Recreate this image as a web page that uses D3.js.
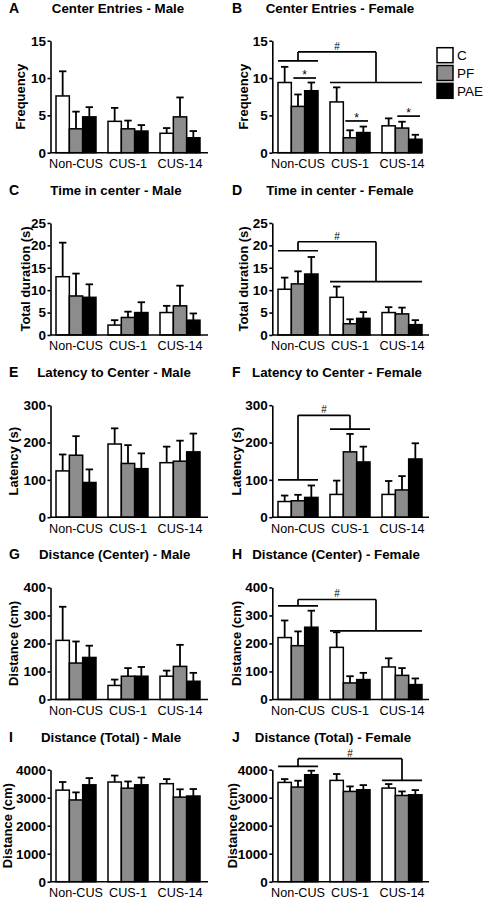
<!DOCTYPE html>
<html><head><meta charset="utf-8">
<script src="https://cdn.jsdelivr.net/npm/d3@7/dist/d3.min.js"></script>
<style>
body{margin:0;background:#fff}
svg{display:block}
text{font-family:Arial,"Liberation Sans",Helvetica,sans-serif}
</style>
</head><body>
<svg id="chart" width="485" height="900"></svg>
<script>
// ---------- data ----------
const groups = ["Non-CUS", "CUS-1", "CUS-14"];
const series = ["C", "PF", "PAE"];

// means [group][series] and SEM (upper error bar length)
const entriesMaleMean   = [[7.6, 3.2, 4.8], [4.2, 3.2, 2.9], [2.6, 4.8, 2.0]];
const entriesMaleSem    = [[3.3, 2.3, 1.3], [1.8, 1.1, 0.8], [0.7, 2.6, 0.9]];
const entriesFemaleMean = [[9.4, 6.2, 8.3], [6.8, 2.0, 2.7], [3.6, 3.3, 1.8]];
const entriesFemaleSem  = [[2.1, 1.6, 1.1], [1.95, 1.0, 0.8], [1.0, 0.85, 0.6]];

const timeMaleMean   = [[13.0, 8.7, 8.4], [2.2, 3.9, 5.0], [5.0, 6.5, 3.3]];
const timeMaleSem    = [[7.6, 5.0, 2.9], [1.1, 1.3, 2.3], [1.5, 4.5, 1.5]];
const timeFemaleMean = [[10.2, 11.4, 13.6], [8.4, 2.5, 3.7], [5.0, 4.7, 2.3]];
const timeFemaleSem  = [[2.6, 2.8, 3.8], [2.4, 1.0, 1.4], [1.2, 1.4, 1.0]];

const latencyMaleMean   = [[124, 166, 93], [196, 144, 130], [146, 150, 175]];
const latencyMaleSem    = [[44, 51, 35], [42, 49, 41], [43, 55, 49]];
const latencyFemaleMean = [[42, 44, 53], [61, 175, 148], [61, 73, 156]];
const latencyFemaleSem  = [[16, 16, 32], [37, 48, 41], [36, 37, 42]];

const distCenterMaleMean   = [[211, 130, 150], [50, 83, 83], [83, 118, 65]];
const distCenterMaleSem    = [[120, 77, 42], [21, 29, 33], [20, 77, 30]];
const distCenterFemaleMean = [[221, 192, 258], [186, 59, 71], [116, 86, 53]];
const distCenterFemaleSem  = [[61, 51, 59], [54, 24, 24], [31, 26, 22]];

const distTotalMaleMean   = [[3270, 2920, 3460], [3560, 3340, 3460], [3500, 3020, 3060]];
const distTotalMaleSem    = [[290, 270, 240], [230, 240, 260], [165, 280, 250]];
const distTotalFemaleMean = [[3546, 3380, 3821], [3618, 3224, 3284], [3343, 3080, 3104]];
const distTotalFemaleSem  = [[120, 226, 143], [227, 179, 166], [144, 144, 167]];

// tick labels
const ticksEntries  = [0, 5, 10, 15];
const ticksTime     = [0, 5, 10, 15, 20, 25];
const ticksLatency  = [0, 100, 200, 300];
const ticksDistC    = [0, 100, 200, 300, 400];
const ticksDistT    = [0, 1000, 2000, 3000, 4000];

// significance: "#" brackets (left group span, right group span, heights) and "*" lines
const bracketEntries = {left: [0, 0], right: [1, 2], yl: 12.3, yr: 9.4, yt: 13.5};
const bracketTime    = {left: [0, 0], right: [1, 2], yl: 18.8, yr: 11.9, yt: 20.8};
const bracketLatency = {left: [0, 0], right: [1, 1], yl: 100, yr: 236, yt: 273};
const bracketDistC   = {left: [0, 0], right: [1, 2], yl: 334, yr: 245, yt: 357};
const bracketDistT   = {left: [0, 0], right: [2, 2], yl: 4119, yr: 3618, yt: 4394};
const starsEntries   = [{g: 0, from: 1, to: 2, v: 10.0}, {g: 1, from: 1, to: 2, v: 4.25}, {g: 2, from: 1, to: 2, v: 4.9}];

// ---------- layout ----------
const panels = [
  {L: "A", title: "Center Entries - Male", ylab: "Frequency", mean: entriesMaleMean, sem: entriesMaleSem, ticks: ticksEntries, row: 0, col: 0, tx: 118, lx: 25},
  {L: "B", title: "Center Entries - Female", ylab: "Frequency", mean: entriesFemaleMean, sem: entriesFemaleSem, ticks: ticksEntries, row: 0, col: 1, tx: 340, lx: 248, br: bracketEntries, stars: starsEntries, legend: true, axEnd: 422},
  {L: "C", title: "Time in center - Male", ylab: "Total duration (s)", mean: timeMaleMean, sem: timeMaleSem, ticks: ticksTime, row: 1, col: 0, tx: 116, lx: 29.5},
  {L: "D", title: "Time in center - Female", ylab: "Total duration (s)", mean: timeFemaleMean, sem: timeFemaleSem, ticks: ticksTime, row: 1, col: 1, tx: 340, lx: 248, br: bracketTime},
  {L: "E", title: "Latency to Center - Male", ylab: "Latency (s)", mean: latencyMaleMean, sem: latencyMaleSem, ticks: ticksLatency, row: 2, col: 0, tx: 114, lx: 18},
  {L: "F", title: "Latency to Center - Female", ylab: "Latency (s)", mean: latencyFemaleMean, sem: latencyFemaleSem, ticks: ticksLatency, row: 2, col: 1, tx: 337, lx: 241, br: bracketLatency},
  {L: "G", title: "Distance (Center) - Male", ylab: "Distance (cm)", mean: distCenterMaleMean, sem: distCenterMaleSem, ticks: ticksDistC, row: 3, col: 0, tx: 114.7, lx: 18},
  {L: "H", title: "Distance (Center) - Female", ylab: "Distance (cm)", mean: distCenterFemaleMean, sem: distCenterFemaleSem, ticks: ticksDistC, row: 3, col: 1, tx: 336, lx: 241, br: bracketDistC},
  {L: "I", title: "Distance (Total) - Male", ylab: "Distance (cm)", mean: distTotalMaleMean, sem: distTotalMaleSem, ticks: ticksDistT, row: 4, col: 0, tx: 111, lx: 12},
  {L: "J", title: "Distance (Total) - Female", ylab: "Distance (cm)", mean: distTotalFemaleMean, sem: distTotalFemaleSem, ticks: ticksDistT, row: 4, col: 1, tx: 333, lx: 236.5, br: bracketDistT}
];

const fills = d3.scaleOrdinal().domain(series).range(["#ffffff", "#8c8c8c", "#000000"]);
const svg = d3.select("#chart");
svg.append("rect").attr("width", 485).attr("height", 900).attr("fill", "#fff");

const ROW = 182.25;

panels.forEach(p => {
  const oy = p.row * ROW;
  const ax = p.col ? 272.3 : 50.5;
  const bx0 = p.col ? 278 : 56;
  const axEnd = p.axEnd || (p.col ? 429 : 208);
  const yMax = p.ticks[p.ticks.length - 1];
  const y = d3.scaleLinear().domain([0, yMax]).range([152.7 + oy, 40.7 + oy]);
  const x0 = d3.scaleBand().domain(groups).range([bx0, bx0 + 144]).paddingInner(12 / 52).paddingOuter(0);
  const x1 = d3.scaleBand().domain(series).range([0, x0.bandwidth()]);
  const g = svg.append("g");

  // letter + title
  g.append("text").attr("x", p.col ? 232 : 9).attr("y", 12.7 + oy)
    .attr("font-size", 14).attr("font-weight", "bold").text(p.L);
  g.append("text").attr("x", p.tx).attr("y", 12.7 + oy).attr("text-anchor", "middle")
    .attr("font-size", 13.3).attr("font-weight", "bold").text(p.title);

  // bars
  groups.forEach((grp, gi) => {
    series.forEach((s, si) => {
      const m = p.mean[gi][si], e = p.sem[gi][si];
      const bx = x0(grp) + x1(s), bw = x1.bandwidth();
      const cx = bx + bw / 2;
      g.append("line").attr("x1", cx).attr("x2", cx).attr("y1", y(m)).attr("y2", y(m + e))
        .attr("stroke", "#000").attr("stroke-width", 1.8);
      g.append("line").attr("x1", cx - 3.7).attr("x2", cx + 3.7).attr("y1", y(m + e)).attr("y2", y(m + e))
        .attr("stroke", "#000").attr("stroke-width", 1.8);
      g.append("rect").attr("x", bx).attr("y", y(m)).attr("width", bw).attr("height", y(0) - y(m))
        .attr("fill", fills(s)).attr("stroke", "#000").attr("stroke-width", 1.5);
    });
  });

  // y axis
  const yAxis = d3.axisLeft(y).tickValues(p.ticks).tickFormat(d3.format("d"))
    .tickSize(3).tickSizeOuter(0).tickPadding(1.5);
  const ya = g.append("g").attr("transform", `translate(${ax},0)`).call(yAxis);
  ya.select(".domain").attr("stroke", "#000").attr("stroke-width", 1.6);
  ya.selectAll(".tick line").attr("stroke", "#000").attr("stroke-width", 1.6);
  ya.selectAll(".tick text").attr("font-size", 13.5).attr("font-weight", "bold").attr("fill", "#000")
    .attr("font-family", "Arial, 'Liberation Sans', sans-serif");

  // x axis
  g.append("line").attr("x1", ax).attr("x2", axEnd).attr("y1", y(0)).attr("y2", y(0))
    .attr("stroke", "#000").attr("stroke-width", 1.6);
  groups.forEach(grp => {
    g.append("text").attr("x", x0(grp) + x0.bandwidth() / 2).attr("y", y(0) + 15.3)
      .attr("text-anchor", "middle").attr("font-size", 12.6).text(grp);
  });

  // y label
  g.append("text").attr("transform", `translate(${p.lx},${(y(0) + y(yMax)) / 2}) rotate(-90)`)
    .attr("text-anchor", "middle").attr("font-size", 13).attr("font-weight", "bold").text(p.ylab);

  // # bracket
  if (p.br) {
    const b = p.br;
    const lx1 = x0(groups[b.left[0]]), lx2 = x0(groups[b.left[1]]) + x0.bandwidth();
    const rx1 = x0(groups[b.right[0]]), rx2 = x0(groups[b.right[1]]) + x0.bandwidth();
    const lm = (lx1 + lx2) / 2, rm = (rx1 + rx2) / 2;
    const seg = (a, b2, c, d) => g.append("line").attr("x1", a).attr("y1", b2).attr("x2", c).attr("y2", d)
      .attr("stroke", "#000").attr("stroke-width", 1.7);
    seg(lx1, y(b.yl), lx2, y(b.yl));
    seg(rx1, y(b.yr), rx2, y(b.yr));
    seg(lm, y(b.yt), rm, y(b.yt));
    seg(lm, y(b.yt), lm, y(b.yl));
    seg(rm, y(b.yt), rm, y(b.yr));
    g.append("text").attr("x", (lm + rm) / 2).attr("y", y(b.yt) - 2).attr("text-anchor", "middle")
      .attr("font-size", 10).text("#");
  }

  // * lines
  if (p.stars) {
    p.stars.forEach(s => {
      const a = x0(groups[s.g]) + x1(series[s.from]) + 2;
      const c = x0(groups[s.g]) + x1(series[s.to]) + x1.bandwidth() - 2;
      g.append("line").attr("x1", a).attr("x2", c).attr("y1", y(s.v)).attr("y2", y(s.v))
        .attr("stroke", "#000").attr("stroke-width", 1.7);
      g.append("text").attr("x", (a + c) / 2).attr("y", y(s.v) + 1).attr("text-anchor", "middle")
        .attr("font-size", 12).text("*");
    });
  }

  // legend
  if (p.legend) {
    series.forEach((s, i) => {
      const ly = 47.7 + i * 17.8 + oy;
      g.append("rect").attr("x", 437).attr("y", ly).attr("width", 16).attr("height", 15)
        .attr("fill", fills(s)).attr("stroke", "#000").attr("stroke-width", 1.5);
      g.append("text").attr("x", 457).attr("y", ly + 12.5).attr("font-size", 13.5).text(s);
    });
  }
});
</script>
</body></html>
